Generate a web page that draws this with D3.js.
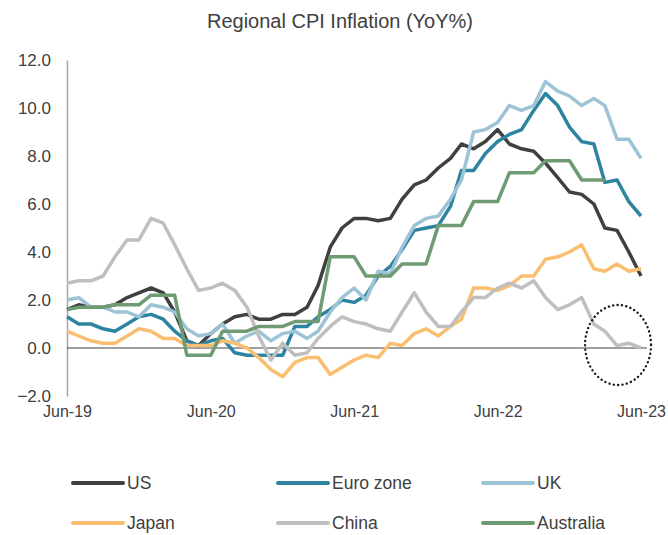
<!DOCTYPE html>
<html>
<head>
<meta charset="utf-8">
<script src="https://cdn.jsdelivr.net/npm/d3@7"></script>
<style>
  html, body { margin: 0; padding: 0; background: #fff; }
  svg { display: block; font-family: "Liberation Sans", Arial, sans-serif; }
</style>
</head>
<body>
<svg id="chart" width="668" height="535"></svg>
<script>
// ---- Data (monthly, Jun-19 .. Jun-23) ----
const startMonth = "2019-06";
const us = [1.6,1.8,1.7,1.7,1.8,2.1,2.3, 2.5,2.3,1.5,0.3,0.1,0.6,1.0,1.3,1.4,1.2,1.2,1.4, 1.4,1.7,2.6,4.2,5.0,5.4,5.4,5.3,5.4,6.2,6.8,7.0, 7.5,7.9,8.5,8.3,8.6,9.1,8.5,8.3,8.2,7.7,7.1,6.5, 6.4,6.0,5.0,4.9,4.0,3.0];
const euroZone = [1.3,1.0,1.0,0.8,0.7,1.0,1.3, 1.4,1.2,0.7,0.3,0.1,0.3,0.4,-0.2,-0.3,-0.3,-0.3,-0.3, 0.9,0.9,1.3,1.6,2.0,1.9,2.2,3.0,3.4,4.1,4.9,5.0, 5.1,5.9,7.4,7.4,8.1,8.6,8.9,9.1,9.9,10.6,10.1,9.2, 8.6,8.5,6.9,7.0,6.1,5.5];
const uk = [2.0,2.1,1.7,1.7,1.5,1.5,1.3, 1.8,1.7,1.5,0.8,0.5,0.6,1.0,0.2,0.5,0.7,0.3,0.6, 0.7,0.4,0.7,1.5,2.1,2.5,2.0,3.2,3.1,4.2,5.1,5.4, 5.5,6.2,7.0,9.0,9.1,9.4,10.1,9.9,10.1,11.1,10.7,10.5, 10.1,10.4,10.1,8.7,8.7,7.9];
const japan = [0.7,0.5,0.3,0.2,0.2,0.5,0.8, 0.7,0.4,0.4,0.1,0.1,0.1,0.3,0.2,0.0,-0.4,-0.9,-1.2, -0.6,-0.4,-0.4,-1.1,-0.8,-0.5,-0.3,-0.4,0.2,0.1,0.6,0.8, 0.5,0.9,1.2,2.5,2.5,2.4,2.6,3.0,3.0,3.7,3.8,4.0, 4.3,3.3,3.2,3.5,3.2,3.3];
const china = [2.7,2.8,2.8,3.0,3.8,4.5,4.5, 5.4,5.2,4.3,3.3,2.4,2.5,2.7,2.4,1.7,0.5,-0.5,0.2, -0.3,-0.2,0.4,0.9,1.3,1.1,1.0,0.8,0.7,1.5,2.3,1.5, 0.9,0.9,1.5,2.1,2.1,2.5,2.7,2.5,2.8,2.1,1.6,1.8, 2.1,1.0,0.7,0.1,0.2,0.0];
// Australia: quarterly CPI repeated monthly, Jun-19 .. Mar-23
const australia = [1.6, 1.7,1.7,1.7, 1.8,1.8,1.8, 2.2,2.2,2.2, -0.3,-0.3,-0.3, 0.7,0.7,0.7, 0.9,0.9,0.9, 1.1,1.1,1.1, 3.8,3.8,3.8, 3.0,3.0,3.0, 3.5,3.5,3.5, 5.1,5.1,5.1, 6.1,6.1,6.1, 7.3,7.3,7.3, 7.8,7.8,7.8, 7.0,7.0,7.0];
const seriesNames = ["US","Euro zone","UK","Japan","China","Australia"];
const xTickLabels = ["Jun-19","Jun-20","Jun-21","Jun-22","Jun-23"];
const yTicks = [-2,0,2,4,6,8,10,12];
const title = "Regional CPI Inflation (YoY%)";

// ---- Styles ----
const colors = ["#404040","#2E84A0","#9DC3D6","#F9BE70","#BFBFBF","#6F9B73"];
const values = [us, euroZone, uk, japan, china, australia];

const svg = d3.select("#chart");
const parse = d3.timeParse("%Y-%m");
const t0 = parse(startMonth);
const monthDate = i => d3.timeMonth.offset(t0, i);

const x = d3.scaleTime()
  .domain([t0, d3.timeMonth.offset(t0, 48)])
  .range([67, 641]);
const y = d3.scaleLinear().domain([-2, 12]).range([396, 60]);

// Title
svg.append("text")
  .attr("x", 340).attr("y", 28)
  .attr("text-anchor", "middle")
  .attr("font-size", 20)
  .attr("fill", "#404040")
  .text(title);

// Y axis
const yAxis = svg.append("g")
  .attr("transform", `translate(${x.range()[0]},0)`)
  .call(d3.axisLeft(y).tickValues(yTicks).tickSize(0).tickPadding(16)
        .tickFormat(d3.format(".1f")));
yAxis.select(".domain").attr("stroke", "#A6A6A6").attr("stroke-width", 1.5);
yAxis.selectAll("text").attr("font-size", 17).attr("fill", "#404040")
  .attr("font-family", "Liberation Sans, Arial, sans-serif");

// X axis labels
const xTickDates = xTickLabels.map(s => d3.timeParse("%b-%y")(s));
const xAxis = svg.append("g")
  .attr("transform", `translate(0,${y(-2)})`)
  .call(d3.axisBottom(x).tickValues(xTickDates).tickSize(0).tickPadding(10)
        .tickFormat((d, i) => xTickLabels[i]));
xAxis.select(".domain").remove();
xAxis.selectAll("text").attr("font-size", 16).attr("fill", "#404040")
  .attr("font-family", "Liberation Sans, Arial, sans-serif");

// Zero line
svg.append("line")
  .attr("x1", x.range()[0]).attr("x2", x.range()[1] + 6)
  .attr("y1", y(0)).attr("y2", y(0))
  .attr("stroke", "#404040").attr("stroke-width", 1);

// Lines
const line = d3.line()
  .x((d, i) => x(monthDate(i)))
  .y(d => y(d));
values.forEach((vals, k) => {
  svg.append("path")
    .datum(vals)
    .attr("fill", "none")
    .attr("stroke", colors[k])
    .attr("stroke-width", 3.5)
    .attr("stroke-linejoin", "round")
    .attr("d", line);
});

// Dotted ellipse annotation around China's latest readings
svg.append("ellipse")
  .attr("cx", x(monthDate(46)) + 1)
  .attr("cy", y(0) - 3)
  .attr("rx", 33).attr("ry", 40)
  .attr("fill", "none")
  .attr("stroke", "#1a1a1a")
  .attr("stroke-width", 2.4)
  .attr("stroke-linecap", "round")
  .attr("stroke-dasharray", "0.1 4.3");

// Legend
const legendCols = [73, 278, 483];
const legendRows = [483, 523];
seriesNames.forEach((name, k) => {
  const lx = legendCols[k % 3], ly = legendRows[Math.floor(k / 3)];
  const g = svg.append("g").attr("transform", `translate(${lx},${ly})`);
  g.append("line").attr("x1", 0).attr("x2", 50).attr("y1", 0).attr("y2", 0)
    .attr("stroke", colors[k]).attr("stroke-width", 4).attr("stroke-linecap", "round");
  g.append("text").attr("x", 54).attr("y", 0).attr("dy", "0.35em")
    .attr("font-size", 17.5).attr("fill", "#404040").text(name);
});
</script>
</body>
</html>
